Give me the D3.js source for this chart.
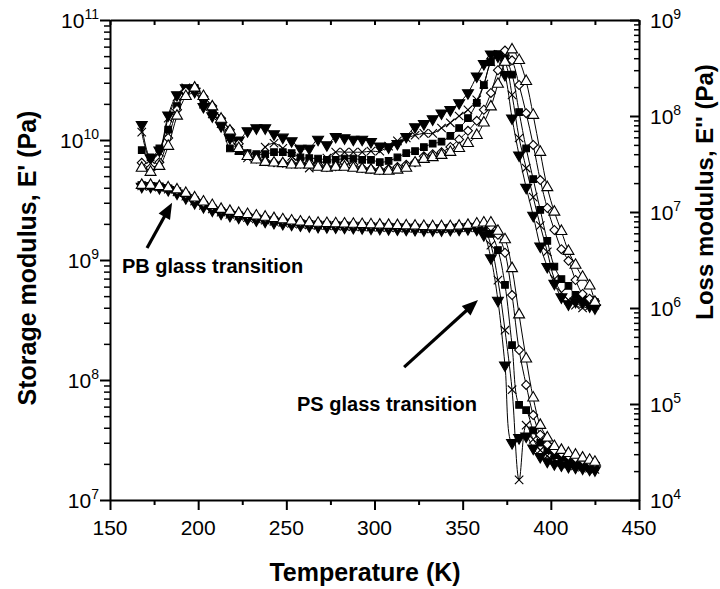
<!DOCTYPE html>
<html>
<head>
<meta charset="utf-8">
<script src="https://cdn.jsdelivr.net/npm/d3@7"></script>
<style>
  body { margin: 0; background: #fff; }
  svg { display: block; font-family: "Liberation Sans", Arial, sans-serif; }
</style>
</head>
<body>
<svg id="chart" width="720" height="589"></svg>
<script>
// temperature grid (K) shared by every sample
const temps = [168, 173, 178, 183, 188, 193, 198, 203, 208, 213, 218, 223, 228, 233, 238, 243, 248, 253, 258, 263,
  268, 273, 278, 283, 288, 293, 298, 303, 308, 313, 318, 323, 328, 333, 338, 343, 348, 353, 358,
  362, 366, 370, 374, 378, 382, 386, 390, 394, 398, 402, 406, 410, 414, 418, 422, 425];

// storage modulus E' (Pa), left axis
const storageDown = [4.1e9,4.1e9,4.0e9,3.85e9,3.6e9,3.3e9,3.0e9,2.78e9,2.6e9,2.45e9,2.35e9,2.27e9,2.2e9,2.15e9,2.1e9,2.05e9,2.01e9,1.98e9,1.95e9,1.92e9,
  1.9e9,1.89e9,1.88e9,1.87e9,1.86e9,1.85e9,1.84e9,1.83e9,1.82e9,1.81e9,1.8e9,1.79e9,1.78e9,1.78e9,1.78e9,1.79e9,1.8e9,1.82e9,1.8e9,
  1.62e9,1.04e9,4.6e8,1.33e8,3.0e7,3.3e7,3.4e7,2.7e7,2.3e7,2.1e7,2.0e7,1.95e7,1.9e7,1.87e7,1.84e7,1.8e7,1.78e7];
const storageCross = [4.15e9,4.1e9,4.05e9,3.9e9,3.7e9,3.4e9,3.1e9,2.85e9,2.66e9,2.5e9,2.4e9,2.32e9,2.25e9,2.2e9,2.15e9,2.1e9,2.06e9,2.02e9,1.99e9,1.96e9,
  1.94e9,1.93e9,1.92e9,1.91e9,1.9e9,1.89e9,1.88e9,1.87e9,1.86e9,1.85e9,1.84e9,1.83e9,1.82e9,1.82e9,1.82e9,1.83e9,1.85e9,1.86e9,1.85e9,
  1.82e9,1.33e9,6.8e8,2.6e8,8.3e7,1.47e7,4.2e7,3.2e7,2.6e7,2.33e7,2.15e7,2.07e7,2.0e7,1.92e7,1.88e7,1.84e7,1.8e7];
const storageSquare = [4.2e9,4.15e9,4.1e9,3.95e9,3.75e9,3.45e9,3.15e9,2.9e9,2.72e9,2.55e9,2.45e9,2.37e9,2.3e9,2.25e9,2.2e9,2.15e9,2.1e9,2.06e9,2.03e9,2.0e9,
  1.98e9,1.97e9,1.96e9,1.95e9,1.94e9,1.93e9,1.92e9,1.91e9,1.9e9,1.89e9,1.88e9,1.87e9,1.86e9,1.85e9,1.85e9,1.86e9,1.88e9,1.9e9,1.9e9,
  1.85e9,1.65e9,1.21e9,6.2e8,1.95e8,6.2e7,5.6e7,3.8e7,3.0e7,2.6e7,2.37e7,2.24e7,2.1e7,2.04e7,1.96e7,1.92e7,1.88e7];
const storageDiamond = [4.25e9,4.2e9,4.1e9,4.0e9,3.8e9,3.55e9,3.25e9,3.0e9,2.8e9,2.62e9,2.52e9,2.43e9,2.37e9,2.3e9,2.25e9,2.2e9,2.15e9,2.1e9,2.07e9,2.04e9,
  2.02e9,2.0e9,1.99e9,1.98e9,1.97e9,1.96e9,1.95e9,1.94e9,1.93e9,1.92e9,1.91e9,1.9e9,1.89e9,1.88e9,1.88e9,1.89e9,1.91e9,1.95e9,1.98e9,
  2.0e9,1.9e9,1.62e9,1.15e9,5.1e8,1.78e8,9.1e7,5.1e7,3.5e7,2.9e7,2.6e7,2.46e7,2.33e7,2.24e7,2.15e7,2.07e7,2.04e7];
const storageTriangle = [4.2e9,4.2e9,4.1e9,4.0e9,3.85e9,3.6e9,3.3e9,3.05e9,2.85e9,2.65e9,2.55e9,2.45e9,2.4e9,2.33e9,2.28e9,2.22e9,2.17e9,2.12e9,2.08e9,2.05e9,
  2.03e9,2.02e9,2.01e9,2.0e9,1.99e9,1.98e9,1.97e9,1.96e9,1.95e9,1.94e9,1.93e9,1.92e9,1.91e9,1.9e9,1.9e9,1.9e9,1.92e9,1.95e9,2.0e9,
  2.04e9,2.04e9,1.74e9,1.48e9,8.5e8,3.5e8,1.5e8,7.1e7,4.2e7,3.3e7,2.8e7,2.6e7,2.45e7,2.37e7,2.24e7,2.15e7,2.07e7];

// loss modulus E'' (Pa), right axis
const lossDown = [8.1e7,3.65e7,4.4e7,1.02e8,1.66e8,1.96e8,1.8e8,1.25e8,1.0e8,7.9e7,5.9e7,5.6e7,7.0e7,7.5e7,7.5e7,6.5e7,6.0e7,5.5e7,4.6e7,4.6e7,
  5.7e7,5.0e7,6.1e7,5.9e7,5.7e7,5.7e7,5.4e7,4.85e7,4.75e7,5.15e7,6.1e7,7.7e7,8.3e7,9.3e7,1.07e8,1.16e8,1.37e8,1.74e8,2.6e8,
  3.5e8,4.4e8,4.2e8,2.7e8,9.5e7,3.9e7,1.8e7,9.2e6,4.4e6,2.7e6,1.8e6,1.3e6,1.1e6,1.17e6,1.15e6,1.05e6,1.0e6];
const lossCross = [6.8e7,3.5e7,4.2e7,9.5e7,1.58e8,1.96e8,1.87e8,1.33e8,1.05e8,8.3e7,6.0e7,4.4e7,3.65e7,3.8e7,4.75e7,5.2e7,4.6e7,3.8e7,3.25e7,2.87e7,
  3.0e7,3.65e7,4.2e7,4.2e7,4.2e7,4.2e7,4.3e7,4.3e7,4.85e7,5.5e7,5.9e7,6.3e7,6.6e7,6.6e7,7.5e7,8.5e7,1.0e8,1.16e8,1.47e8,
  2.15e8,3.65e8,4.4e8,3.65e8,1.66e8,5.9e7,2.87e7,1.43e7,7.2e6,3.85e6,2.0e6,1.45e6,1.21e6,1.07e6,1.0e6,1.05e6,1.07e6];
const lossSquare = [4.4e7,3.7e7,4.6e7,7.2e7,1.27e8,1.8e8,1.96e8,1.47e8,1.1e8,8.3e7,4.6e7,4.3e7,4.1e7,4.0e7,4.0e7,4.2e7,4.2e7,4.1e7,3.7e7,3.65e7,
  3.6e7,3.5e7,3.5e7,3.6e7,3.6e7,3.5e7,3.5e7,3.3e7,3.4e7,3.7e7,4.1e7,4.3e7,4.75e7,5.15e7,5.4e7,6.2e7,7.5e7,9.5e7,1.37e8,
  2.1e8,3.65e8,4.4e8,4.0e8,2.7e8,1.1e8,4.6e7,2.2e7,1.05e7,5.0e6,2.7e6,2.0e6,1.7e6,1.37e6,1.3e6,1.21e6,1.15e6];
const lossDiamond = [3.25e7,2.87e7,3.3e7,5.9e7,1.16e8,1.8e8,1.96e8,1.6e8,1.27e8,9.5e7,7.2e7,5.15e7,4.0e7,3.6e7,3.4e7,3.3e7,3.25e7,3.2e7,3.2e7,3.25e7,
  3.1e7,2.94e7,3.0e7,3.25e7,3.1e7,2.87e7,2.8e7,2.74e7,2.8e7,2.94e7,3.1e7,3.3e7,3.8e7,4.0e7,4.2e7,4.75e7,5.7e7,7.0e7,8.9e7,
  1.16e8,1.74e8,3.0e8,4.8e8,3.8e8,2.1e8,1.07e8,5.0e7,2.15e7,1.1e7,6.5e6,4.1e6,3.1e6,1.96e6,1.4e6,1.25e6,1.18e6];
const lossTriangle = [2.87e7,2.6e7,3.0e7,4.85e7,1.0e8,1.6e8,1.96e8,1.6e8,1.25e8,9.3e7,7.0e7,4.6e7,3.8e7,3.5e7,3.3e7,3.25e7,3.2e7,3.1e7,3.1e7,3.1e7,
  2.94e7,2.87e7,2.94e7,2.94e7,2.87e7,2.8e7,2.74e7,2.67e7,2.67e7,2.74e7,2.87e7,3.25e7,3.55e7,3.7e7,3.9e7,4.2e7,4.6e7,5.2e7,6.3e7,
  8.5e7,1.25e8,2.15e8,3.65e8,4.9e8,3.8e8,2.3e8,1.02e8,4.2e7,1.8e7,1.0e7,6.3e6,3.9e6,2.8e6,2.1e6,1.7e6,1.15e6];

// axis ticks
const xMajor = [150, 200, 250, 300, 350, 400, 450];
const xMinor = [175, 225, 275, 325, 375, 425];
const leftExps = [7, 8, 9, 10, 11];
const rightExps = [4, 5, 6, 7, 8, 9];

const svg = d3.select('#chart');
const plotLeft = 110, plotRight = 639, plotTop = 20, plotBottom = 500;

const x = d3.scaleLinear().domain([150, 450]).range([plotLeft, plotRight]);
const yL = d3.scaleLog().domain([1e7, 1e11]).range([plotBottom, plotTop]);
const yR = d3.scaleLog().domain([1e4, 1e9]).range([plotBottom, plotTop]);

const minorLog = (exps) => {
  const out = [];
  exps.slice(0, -1).forEach(e => { for (let k = 2; k <= 9; k++) out.push(k * Math.pow(10, e)); });
  return out;
};

const styleAxis = (g, w) => {
  g.selectAll('path').attr('stroke', '#000').attr('stroke-width', 2);
  g.selectAll('line').attr('stroke', '#000').attr('stroke-width', w);
};

// bottom
svg.append('g').attr('transform', `translate(0,${plotBottom})`)
  .call(d3.axisBottom(x).tickValues(xMajor).tickSize(10).tickSizeOuter(0).tickFormat(''))
  .call(g => styleAxis(g, 2));
svg.append('g').attr('transform', `translate(0,${plotBottom})`)
  .call(d3.axisBottom(x).tickValues(xMinor).tickSize(5).tickSizeOuter(0).tickFormat(''))
  .call(g => { g.select('.domain').remove(); styleAxis(g, 2); });
// top
svg.append('g').attr('transform', `translate(0,${plotTop})`)
  .call(d3.axisTop(x).tickValues(xMajor.concat(xMinor)).tickSize(-5).tickSizeOuter(0).tickFormat(''))
  .call(g => styleAxis(g, 2));
// left
svg.append('g').attr('transform', `translate(${plotLeft},0)`)
  .call(d3.axisLeft(yL).tickValues(leftExps.map(e => Math.pow(10, e))).tickSize(10).tickSizeOuter(0).tickFormat(''))
  .call(g => styleAxis(g, 2));
svg.append('g').attr('transform', `translate(${plotLeft},0)`)
  .call(d3.axisLeft(yL).tickValues(minorLog(leftExps)).tickSize(6).tickSizeOuter(0).tickFormat(''))
  .call(g => { g.select('.domain').remove(); styleAxis(g, 1.5); });
// right (ticks inward)
svg.append('g').attr('transform', `translate(${plotRight},0)`)
  .call(d3.axisRight(yR).tickValues(rightExps.map(e => Math.pow(10, e))).tickSize(-9).tickSizeOuter(0).tickFormat(''))
  .call(g => styleAxis(g, 2));
svg.append('g').attr('transform', `translate(${plotRight},0)`)
  .call(d3.axisRight(yR).tickValues(minorLog(rightExps)).tickSize(-5).tickSizeOuter(0).tickFormat(''))
  .call(g => { g.select('.domain').remove(); styleAxis(g, 1.5); });

// tick labels
svg.append('g').selectAll('text').data(xMajor).enter().append('text')
  .attr('x', d => x(d)).attr('y', 535)
  .attr('text-anchor', 'middle').attr('font-size', 21)
  .text(d => d);

const powLabel = (sel) => {
  sel.append('tspan').text('10');
  sel.append('tspan').attr('dy', -9).attr('font-size', 14).text(d => d);
};
svg.append('g').selectAll('text').data(leftExps).enter().append('text')
  .attr('x', plotLeft - 11).attr('y', d => yL(Math.pow(10, d)) + 8)
  .attr('text-anchor', 'end').attr('font-size', 21)
  .call(powLabel);
svg.append('g').selectAll('text').data(rightExps).enter().append('text')
  .attr('x', plotRight + 11).attr('y', d => yR(Math.pow(10, d)) + 8)
  .attr('text-anchor', 'start').attr('font-size', 21)
  .call(powLabel);

// axis titles
svg.append('text').attr('x', 365).attr('y', 581)
  .attr('text-anchor', 'middle').attr('font-size', 25).attr('font-weight', 'bold')
  .text('Temperature (K)');
svg.append('text').attr('transform', 'translate(36,258) rotate(-90)')
  .attr('text-anchor', 'middle').attr('font-size', 25).attr('font-weight', 'bold')
  .text("Storage modulus, E' (Pa)");
svg.append('text').attr('transform', 'translate(713,192) rotate(-90)')
  .attr('text-anchor', 'middle').attr('font-size', 24).attr('font-weight', 'bold')
  .text("Loss modulus, E'' (Pa)");

// series
const timesSym = d3.symbolTimes || d3.symbolCross;
const series = [
  { storage: storageDown, loss: lossDown, symbol: d3.symbolTriangle, size: 52, rotate: 180, fill: '#000' },
  { storage: storageCross, loss: lossCross, symbol: timesSym, size: 48, rotate: d3.symbolTimes ? 0 : 45, fill: 'none' },
  { storage: storageSquare, loss: lossSquare, symbol: d3.symbolSquare, size: 44, rotate: 0, fill: '#000' },
  { storage: storageDiamond, loss: lossDiamond, symbol: d3.symbolSquare, size: 40, rotate: 45, fill: '#fff' },
  { storage: storageTriangle, loss: lossTriangle, symbol: d3.symbolTriangle, size: 52, rotate: 0, fill: '#fff' },
];

const plot = svg.append('g');
const curve = d3.curveCatmullRom.alpha(0.5);

const drawCurve = (vals, y, s) => {
  const pts = temps.map((t, i) => ({ t, v: vals[i] }));
  plot.append('path').datum(pts)
    .attr('fill', 'none').attr('stroke', '#000').attr('stroke-width', 1)
    .attr('d', d3.line().x(d => x(d.t)).y(d => y(d.v)).curve(curve));
  plot.append('g').selectAll('path').data(pts).enter().append('path')
    .attr('transform', d => `translate(${x(d.t)},${y(d.v)}) rotate(${s.rotate})`)
    .attr('d', d3.symbol().type(s.symbol).size(s.size))
    .attr('fill', s.fill).attr('stroke', '#000').attr('stroke-width', 1.1);
};

series.forEach(s => drawCurve(s.loss, yR, s));
series.forEach(s => drawCurve(s.storage, yL, s));

// annotations
const notes = [
  { text: 'PB glass transition', tx: 122, ty: 273, from: [171, 1.26e9], to: [185.2, 3.0e9] },
  { text: 'PS glass transition', tx: 297, ty: 411, from: [316.8, 1.28e8], to: [358.7, 4.64e8] },
];
notes.forEach(n => {
  svg.append('text').attr('x', n.tx).attr('y', n.ty)
    .attr('font-size', 20).attr('font-weight', 'bold').text(n.text);
  const x0 = x(n.from[0]), y0 = yL(n.from[1]);
  const x1 = x(n.to[0]), y1 = yL(n.to[1]);
  const len = Math.hypot(x1 - x0, y1 - y0);
  const ux = (x1 - x0) / len, uy = (y1 - y0) / len;
  const headL = 16, headW = 6.5;
  const bx = x1 - ux * headL, by = y1 - uy * headL;
  svg.append('line')
    .attr('x1', x0).attr('y1', y0).attr('x2', x1 - ux * 10).attr('y2', y1 - uy * 10)
    .attr('stroke', '#000').attr('stroke-width', 3.2);
  svg.append('path')
    .attr('d', `M${x1},${y1}L${bx - uy * headW},${by + ux * headW}L${bx + uy * headW},${by - ux * headW}Z`)
    .attr('fill', '#000');
});
</script>
</body>
</html>
